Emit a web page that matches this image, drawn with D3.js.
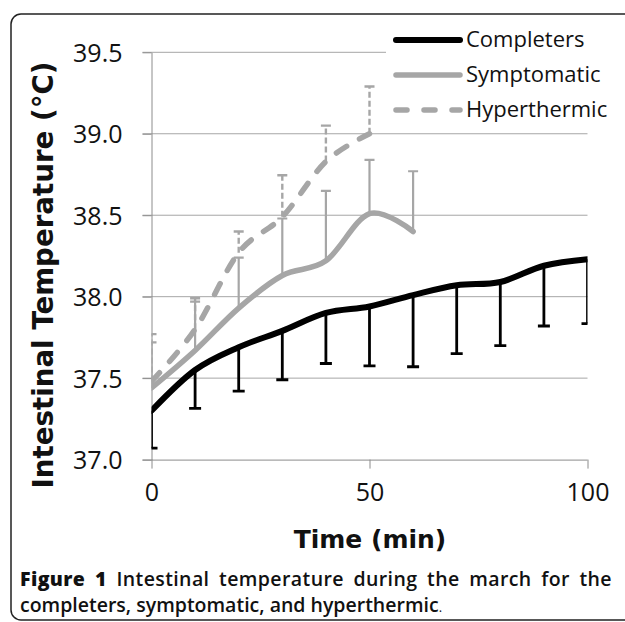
<!DOCTYPE html>
<html>
<head>
<meta charset="utf-8">
<script src="https://cdn.jsdelivr.net/npm/d3@7/dist/d3.min.js"></script>
<style>
  html, body { margin: 0; padding: 0; background: #fff; }
  svg { display: block; }
</style>
</head>
<body>
<svg id="chart" width="625" height="622"></svg>
<script>
// ---- data ----
const timeTicks = [0, 50, 100];
const tempTicks = [37.0, 37.5, 38.0, 38.5, 39.0, 39.5];

const completersTime = [0, 10, 20, 30, 40, 50, 60, 70, 80, 90, 100];
const completersMean = [37.30, 37.55, 37.69, 37.79, 37.90, 37.94, 38.01, 38.07, 38.09, 38.19, 38.23];
const completersSD   = [0.23, 0.235, 0.27, 0.30, 0.31, 0.365, 0.44, 0.42, 0.39, 0.37, 0.395];

const symptomaticTime = [0, 10, 20, 30, 40, 50, 60];
const symptomaticMean = [37.44, 37.67, 37.93, 38.13, 38.22, 38.51, 38.40];
const symptomaticSD   = [0.28, 0.30, 0.31, 0.35, 0.43, 0.33, 0.37];

const hyperthermicTime = [0, 10, 20, 30, 40, 50];
const hyperthermicMean = [37.48, 37.80, 38.27, 38.49, 38.83, 39.00];
const hyperthermicSD   = [0.29, 0.19, 0.13, 0.255, 0.22, 0.29];

const legendLabels = ["Completers", "Symptomatic", "Hyperthermic"];
const yTitle = "Intestinal Temperature (°C)";
const xTitle = "Time (min)";
const captionBold = "Figure 1";
const captionLine1 = " Intestinal temperature during the march for the";
const captionLine2 = "completers, symptomatic, and hyperthermic";

// ---- layout ----
const svg = d3.select("#chart");
const gray = "#a6a6a6";
const axisGray = "#8c8c8c";

const x = d3.scaleLinear().domain([0, 100]).range([151.5, 587.5]);
const y = d3.scaleLinear().domain([37, 39.5]).range([459.6, 52.3]);

// frame
svg.append("rect")
  .attr("x", 11).attr("y", 14).attr("width", 660).attr("height", 606)
  .attr("rx", 10).attr("ry", 10)
  .attr("fill", "none").attr("stroke", "#222").attr("stroke-width", 1.5);

// clip for plot area
svg.append("defs").append("clipPath").attr("id", "plotClip")
  .append("rect")
  .attr("x", x(0)).attr("y", y(39.5) - 10)
  .attr("width", x(100) - x(0)).attr("height", y(37) - y(39.5) + 10);

// gridlines
svg.append("g")
  .selectAll("line").data(tempTicks.filter(d => d > 37)).join("line")
  .attr("x1", x(0) - 9).attr("x2", x(100))
  .attr("y1", d => y(d)).attr("y2", d => y(d))
  .attr("stroke", gray).attr("stroke-width", 1);

// y axis
const yAxis = d3.axisLeft(y).tickValues(tempTicks).tickFormat(d3.format(".1f"))
  .tickSizeInner(9).tickSizeOuter(0).tickPadding(20);
const gy = svg.append("g").attr("transform", `translate(${x(0)},0)`).call(yAxis);
gy.select(".domain").attr("stroke", axisGray);
gy.selectAll(".tick line").attr("stroke", axisGray);
gy.selectAll(".tick text")
  .attr("font-family", "'Open Sans', sans-serif").attr("font-size", 25)
  .attr("fill", "#111").attr("dy", "0.36em");

// x axis
const xAxis = d3.axisBottom(x).tickValues(timeTicks).tickFormat(d3.format("d"))
  .tickSizeInner(9).tickSizeOuter(0).tickPadding(10);
const gx = svg.append("g").attr("transform", `translate(0,${y(37)})`).call(xAxis);
gx.select(".domain").attr("stroke", axisGray).attr("d", `M${x(0) - 9},0.5H${x(100)}`);
gx.selectAll(".tick line").attr("stroke", axisGray);
gx.selectAll(".tick text")
  .attr("font-family", "'Open Sans', sans-serif").attr("font-size", 25)
  .attr("fill", "#111").attr("dy", "0.9em");

// ---- error bars ----
const plot = svg.append("g").attr("clip-path", "url(#plotClip)");

function errorBars(times, means, sds, dir, color, width, capW, dash) {
  const g = plot.append("g");
  const data = times.map((t, i) => ({ t, m: means[i], e: means[i] + dir * sds[i] }));
  g.selectAll("line.v").data(data).join("line")
    .attr("x1", d => x(d.t)).attr("x2", d => x(d.t))
    .attr("y1", d => y(d.m)).attr("y2", d => y(d.e))
    .attr("stroke", color).attr("stroke-width", width)
    .attr("stroke-dasharray", dash || null);
  g.selectAll("line.c").data(data).join("line")
    .attr("x1", d => x(d.t) - capW / 2).attr("x2", d => x(d.t) + capW / 2)
    .attr("y1", d => y(d.e)).attr("y2", d => y(d.e))
    .attr("stroke", color).attr("stroke-width", width);
}

errorBars(completersTime, completersMean, completersSD, -1, "#000", 2.8, 12);
errorBars(symptomaticTime, symptomaticMean, symptomaticSD, 1, gray, 2.2, 10);
errorBars(hyperthermicTime, hyperthermicMean, hyperthermicSD, 1, gray, 2.4, 10, "6,3");

// ---- lines ----
const line = d3.line().x(d => x(d[0])).y(d => y(d[1])).curve(d3.curveCatmullRom.alpha(0));
const zip = (a, b) => a.map((v, i) => [v, b[i]]);

plot.append("path").attr("d", line(zip(hyperthermicTime, hyperthermicMean)))
  .attr("fill", "none").attr("stroke", gray).attr("stroke-width", 5.5)
  .attr("stroke-linecap", "round").attr("stroke-dasharray", "12,15");
plot.append("path").attr("d", line(zip(symptomaticTime, symptomaticMean)))
  .attr("fill", "none").attr("stroke", gray).attr("stroke-width", 5.5)
  .attr("stroke-linecap", "round");
plot.append("path").attr("d", line(zip(completersTime, completersMean)))
  .attr("fill", "none").attr("stroke", "#000").attr("stroke-width", 6)
  .attr("stroke-linecap", "round");

// ---- legend ----
const lg = svg.append("g");
lg.append("rect").attr("x", 386).attr("y", 24).attr("width", 235).attr("height", 102).attr("fill", "#fff");
const legendStyles = [
  { color: "#000", w: 6, dash: null },
  { color: gray, w: 5.5, dash: null },
  { color: gray, w: 5.5, dash: "11,17" }
];
const legendBase = [47, 82, 117];
legendLabels.forEach((lab, i) => {
  const by = legendBase[i];
  lg.append("line").attr("x1", 396).attr("x2", 460).attr("y1", by - 7).attr("y2", by - 7)
    .attr("stroke", legendStyles[i].color).attr("stroke-width", legendStyles[i].w)
    .attr("stroke-linecap", "round").attr("stroke-dasharray", legendStyles[i].dash);
  lg.append("text").attr("x", 466).attr("y", by).text(lab)
    .attr("font-family", "'Open Sans', sans-serif").attr("font-size", 22).attr("fill", "#111");
});

// ---- axis titles ----
svg.append("text").attr("x", 370).attr("y", 548).attr("text-anchor", "middle")
  .attr("font-family", "'DejaVu Sans', sans-serif").attr("font-weight", "bold")
  .attr("font-size", 25).attr("fill", "#111").text(xTitle);

svg.append("text").attr("transform", "translate(53,275) rotate(-90)").attr("text-anchor", "middle")
  .attr("font-family", "'DejaVu Sans', sans-serif").attr("font-weight", "bold")
  .attr("font-size", 27.7).attr("fill", "#111").text(yTitle);

// ---- caption ----
const capFont = "'Open Sans', sans-serif";
const capX = 20;
const c1 = svg.append("text").attr("x", capX).attr("y", 586)
  .attr("font-family", capFont).attr("font-size", 19.5).attr("fill", "#111");
c1.append("tspan").attr("font-weight", 800).text(captionBold);
c1.append("tspan").attr("font-weight", 600).text(captionLine1);
// justify line 1 to the right edge
const natural = c1.node().getComputedTextLength();
const target = 612 - capX;
const spaces = (captionBold + captionLine1).split(" ").length - 1;
const chars = (captionBold + captionLine1).length;
const extra = Math.max(0, target - natural);
c1.attr("word-spacing", (extra * 0.6) / spaces).attr("letter-spacing", (extra * 0.4) / chars);

const c2 = svg.append("text").attr("x", capX).attr("y", 612)
  .attr("font-family", capFont).attr("font-size", 19.5).attr("fill", "#111");
c2.append("tspan").attr("font-weight", 600).text(captionLine2);
c2.append("tspan").attr("font-weight", 400).attr("font-size", 13).text(".");
</script>
</body>
</html>
